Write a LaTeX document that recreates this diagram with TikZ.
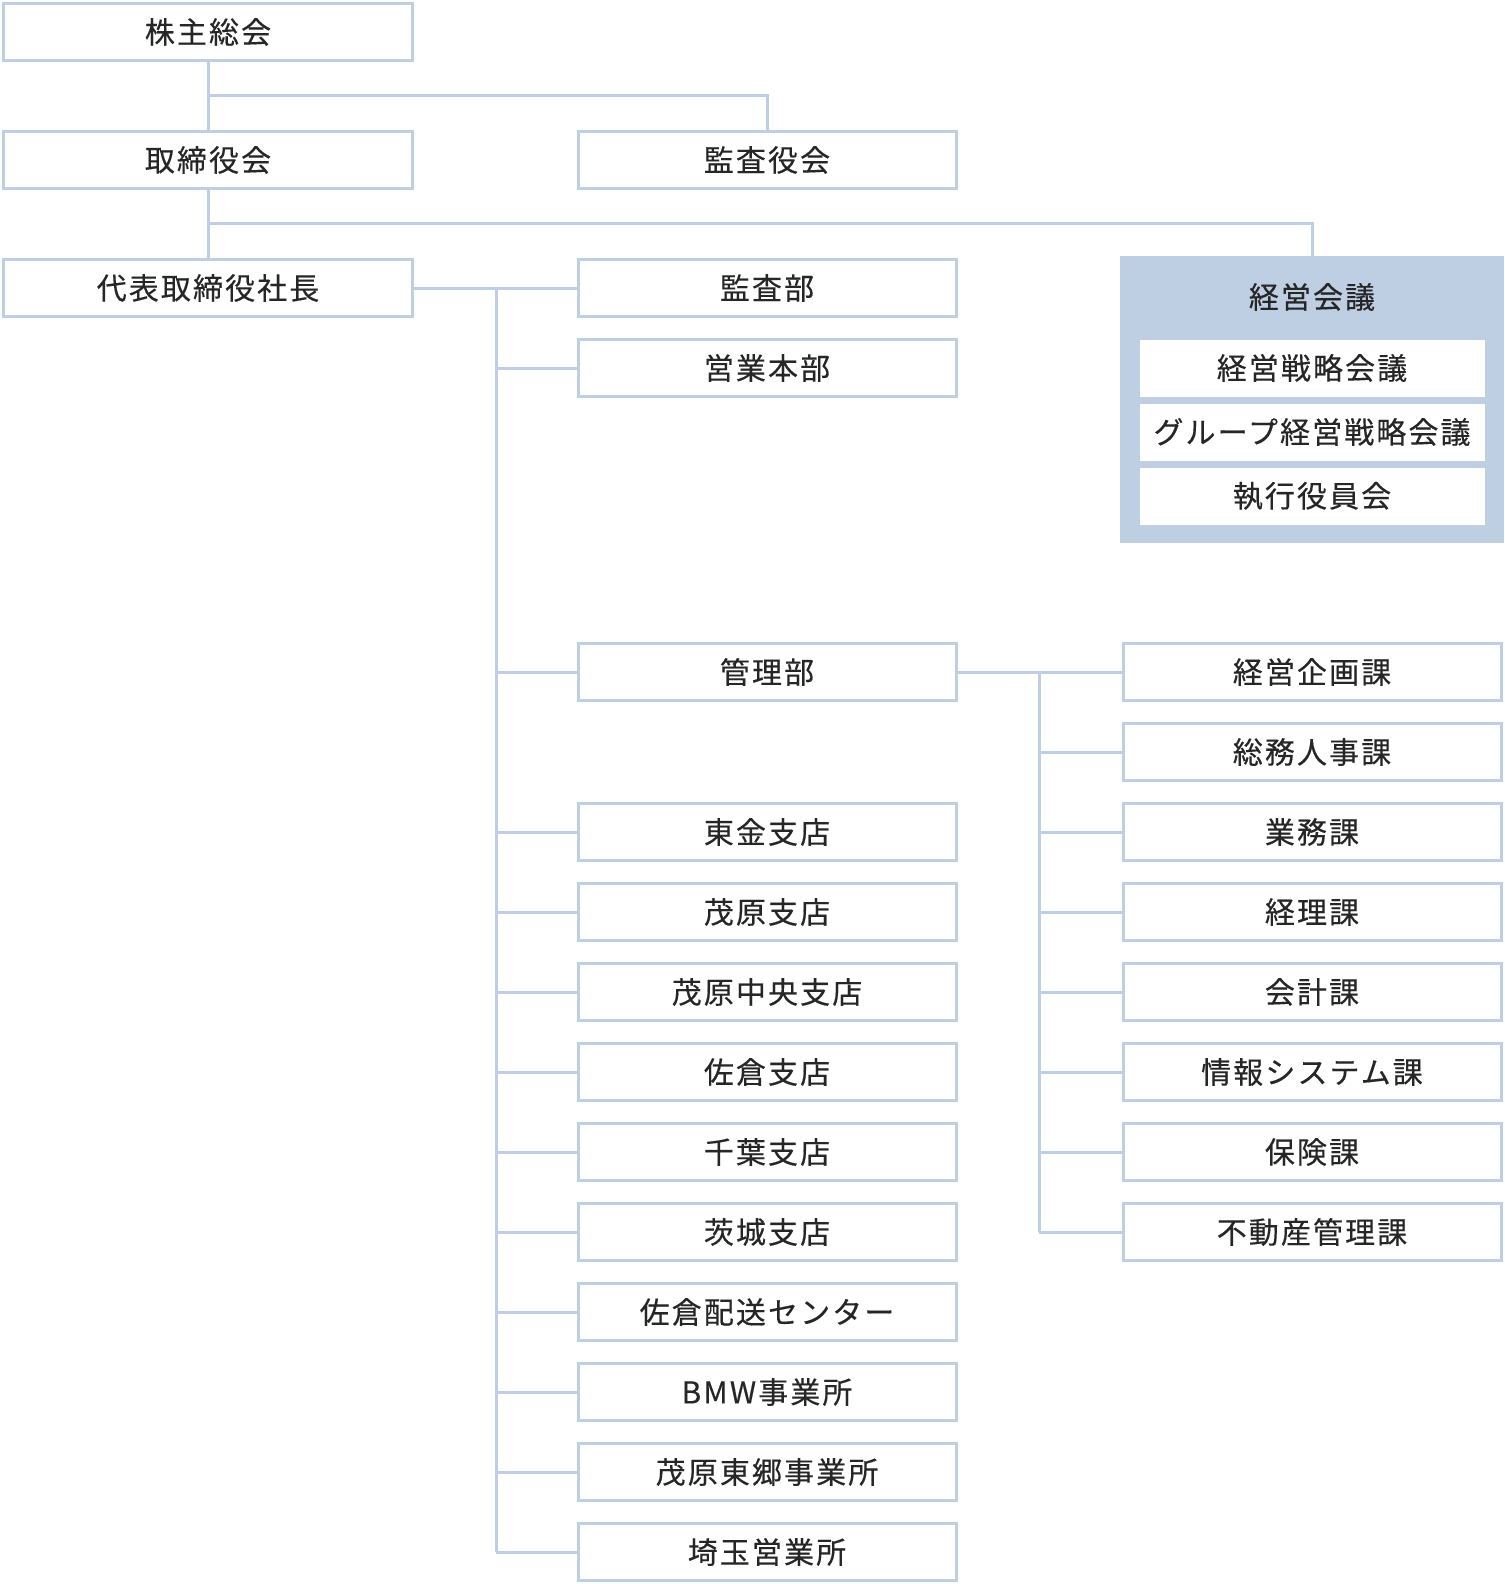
\documentclass[tikz,border=0pt]{standalone}
\usepackage{fontspec}
\setmainfont{Noto Sans CJK JP}
\usetikzlibrary{positioning}
\definecolor{line_blue}{HTML}{BFCFE3}
\definecolor{text_grey}{HTML}{262626}
\newfontfamily\orgfont[LetterSpace=7,FakeBold=0.3]{Noto Sans CJK JP}
\tikzset{
  orgbox/.style={draw=line_blue, line width=3pt, fill=white, text=text_grey,
    minimum height=57pt, inner sep=0pt, font=\orgfont\fontsize{30}{30}\selectfont},
  widebox/.style={orgbox, minimum width=409pt},
  midbox/.style={orgbox, minimum width=378pt},
  innerbox/.style={orgbox, draw=none, minimum width=345pt},
  link/.style={draw=line_blue, line width=3pt}
}

\begin{document}
\begin{tikzpicture}[x=1pt,y=-1pt]
  \useasboundingbox (0,0) rectangle (1504,1584);

  % top of the chart
  \node[widebox] (kabunushi) at (208,32) {株主総会};
  \node[widebox] (torishimari) at (208,160) {取締役会};
  \node[midbox] (kansayaku) at (767,160) {監査役会};
  \node[widebox] (daihyo) at (208,288) {代表取締役社長};

  % management meeting panel
  \node[fill=line_blue, minimum width=384pt, minimum height=287pt, inner sep=0pt] (keiei) at (1312,399.5) {};
  \node[text=text_grey, font=\orgfont\fontsize{30}{30}\selectfont] (keieititle) at (1312,297) {経営会議};
  \foreach \y/\n/\t in {368/senryaku/経営戦略会議, 432/group/グループ経営戦略会議, 496/shikko/執行役員会}
    \node[innerbox] (\n) at (1312,\y) {\t};

  % departments
  \foreach \y/\n/\t in {288/b0/監査部, 368/b1/営業本部, 672/b2/管理部, 832/b3/東金支店,
      912/b4/茂原支店, 992/b5/茂原中央支店, 1072/b6/佐倉支店, 1152/b7/千葉支店,
      1232/b8/茨城支店, 1312/b9/佐倉配送センター, 1392/b10/BMW事業所,
      1472/b11/茂原東郷事業所, 1552/b12/埼玉営業所}
    \node[midbox] (\n) at (767,\y) {\t};

  % sections under 管理部
  \foreach \y/\n/\t in {672/k0/経営企画課, 752/k1/総務人事課, 832/k2/業務課, 912/k3/経理課,
      992/k4/会計課, 1072/k5/情報システム課, 1152/k6/保険課, 1232/k7/不動産管理課}
    \node[midbox] (\n) at (1312,\y) {\t};

  % connectors
  \coordinate (j1) at (208,96);
  \coordinate (j2) at (208,223);
  \draw[link] (kabunushi) -- (torishimari);
  \draw[link] (j1) -| (kansayaku);
  \draw[link] (torishimari) -- (daihyo);
  \draw[link] (j2) -| (keiei);

  \coordinate (trunk) at (496,288);
  \draw[link] (daihyo) -- (b0);
  \draw[link] (trunk) -- (trunk |- b12);
  \foreach \i in {1,...,12}
    \draw[link] (trunk |- b\i) -- (b\i);

  \coordinate (trunk2) at (1039,672);
  \draw[link] (b2) -- (k0);
  \draw[link] (trunk2) -- (trunk2 |- k7);
  \foreach \i in {1,...,7}
    \draw[link] (trunk2 |- k\i) -- (k\i);
\end{tikzpicture}
\end{document}
